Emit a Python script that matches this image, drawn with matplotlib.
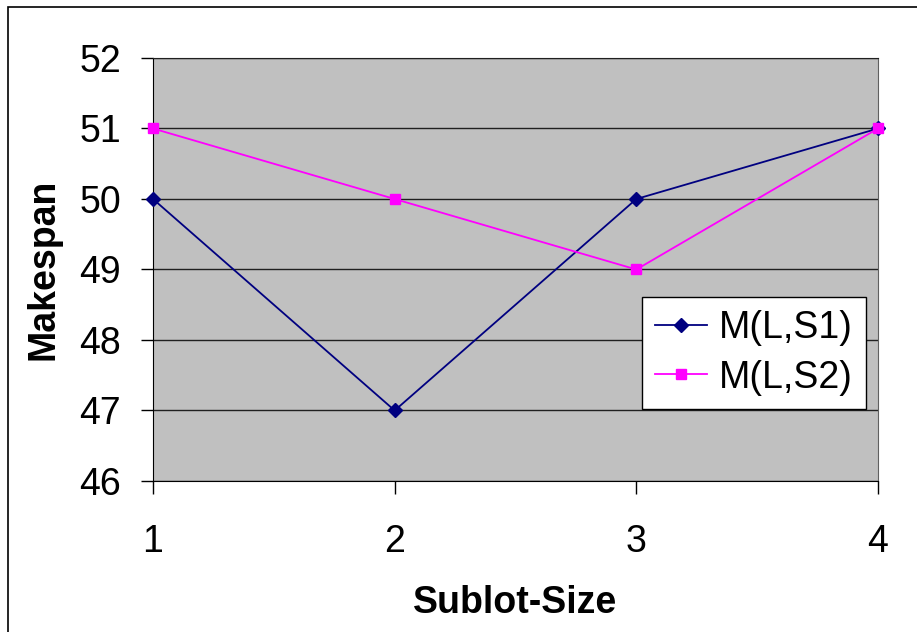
import matplotlib
matplotlib.use("Agg")
import matplotlib.pyplot as plt
from matplotlib.patches import Rectangle

plt.rcParams["font.family"] = ["Liberation Sans", "DejaVu Sans"]

# sublot sizes and makespan for the two schedules
sublot_size = [1, 2, 3, 4]
makespan_s1 = [50, 47, 50, 51]
makespan_s2 = [51, 50, 49, 51]
y_ticks = [46, 47, 48, 49, 50, 51, 52]

fig = plt.figure(figsize=(9.17, 6.32), dpi=100)

# outer chart frame
fig.patches.append(Rectangle((8 / 917, -0.1), 1.2, 1 - 7 / 632 + 0.1,
                             transform=fig.transFigure, fill=False,
                             edgecolor="black", linewidth=1.2))

ax = fig.add_axes([153 / 917, 1 - 481 / 632, 725 / 917, 423 / 632])
ax.set_facecolor("#c0c0c0")

ax.plot(sublot_size, makespan_s1, color="#000080", marker="D", markersize=7,
        linewidth=1.3, label="M(L,S1)", clip_on=False, zorder=3)
ax.plot(sublot_size, makespan_s2, color="#ff00ff", marker="s", markersize=7.5,
        linewidth=1.3, label="M(L,S2)", clip_on=False, zorder=4)

ax.set_xlim(1, 4)
ax.set_ylim(46, 52)
ax.set_xticks(sublot_size)
ax.set_yticks(y_ticks)
ax.grid(axis="y", color="#202020", linewidth=1.0)
ax.set_axisbelow(True)

for side in ("left", "bottom"):
    ax.spines[side].set_color("black")
ax.spines["right"].set_color("#606060")
ax.spines["top"].set_color("#202020")

ax.tick_params(axis="both", direction="out", length=9, width=1,
               labelsize=27, colors="black")
ax.tick_params(axis="y", pad=14)
ax.tick_params(axis="x", pad=22)

ax.set_xlabel("Sublot-Size", fontsize=27, fontweight="bold", labelpad=18)
ax.set_ylabel("Makespan", fontsize=27, fontweight="bold", labelpad=13)

leg = ax.legend(loc="center", bbox_to_anchor=(0.8285, 0.3025), fontsize=27,
                frameon=True, fancybox=False, framealpha=1, edgecolor="black",
                handlelength=1.4, handletextpad=0.3, borderpad=0.35,
                labelspacing=0.35, borderaxespad=0)
leg.get_frame().set_linewidth(1.0)

fig.savefig("out.png", dpi=100)
